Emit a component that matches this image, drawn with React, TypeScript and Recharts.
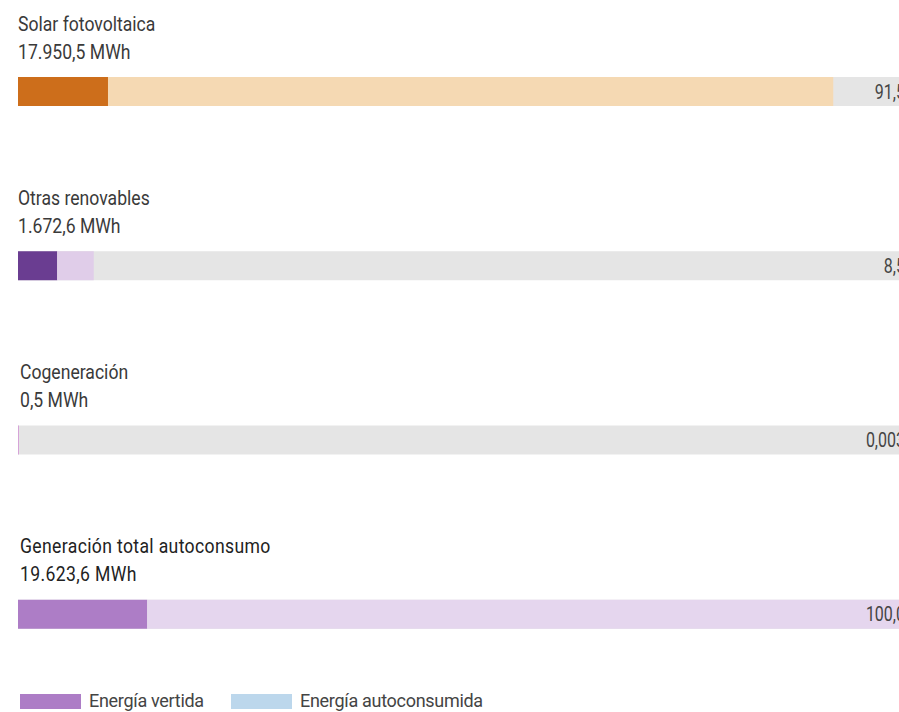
import React from "react";
import { BarChart, Bar, XAxis, YAxis, Cell, LabelList, Legend } from "recharts";

const CATEGORIES = [
  "Solar fotovoltaica",
  "Otras renovables",
  "Cogeneración",
  "Generación total autoconsumo",
];
// MWh generados por tecnología
const GENERATION = [17950.5, 1672.6, 0.5, 19623.6];
// % sobre la generación total
const VERTIDA = [10.1, 4.4, 0.002, 14.5];
const AUTOCONSUMIDA = [81.4, 4.1, 0.001, 85.5];
const SHARE = [91.5, 8.5, 0.003, 100.0];

const DARK = ["#cd6e1b", "#6a3d91", "#d6a3d8", "#ad7dc6"];
const LIGHT = ["#f5d9b3", "#e0cde9", "#ecdff0", "#e5d6ee"];

const FONT = "Roboto, 'Noto Sans', sans-serif";
const TEXT = "#3a3a3a";
const SQUEEZE = 0.88;

const W = 909;
const H = 712;

function fmtEs(v: number, decimals: number) {
  const [int, dec] = v.toFixed(decimals).split(".");
  const grouped = int.replace(/\B(?=(\d{3})+(?!\d))/g, ".");
  return dec ? `${grouped},${dec}` : grouped;
}

const data = CATEGORIES.map((name, i) => ({
  name,
  vertida: VERTIDA[i],
  autoconsumida: AUTOCONSUMIDA[i],
}));

// título y total encima de cada barra
// eslint-disable-next-line @typescript-eslint/no-explicit-any
function TitleLabel({ x, y, height, index }: any) {
  const last = index === CATEGORIES.length - 1;
  const cy = y + height / 2;
  const tx = x + (index >= 2 ? 2 : 0);
  return (
    <g fontFamily={FONT} fontSize={20} fill={last ? "#222" : TEXT}>
      <text transform={`translate(${tx},${cy - 61}) scale(${SQUEEZE},1)`} letterSpacing={last ? 0.4 : 0}>
        {CATEGORIES[index]}
      </text>
      <text transform={`translate(${tx},${cy - 33}) scale(${SQUEEZE},1)`} letterSpacing={last ? 0.4 : 0}>
        {fmtEs(GENERATION[index], 1)} MWh
      </text>
    </g>
  );
}

// eslint-disable-next-line @typescript-eslint/no-explicit-any
function ShareLabel({ y, height, index }: any) {
  const v = SHARE[index];
  return (
    <text
      transform={`translate(${W - 4},${y + height / 2 + 7}) scale(0.8,1)`}
      textAnchor="end"
      fontFamily={FONT}
      fontSize={20}
      fill="#444"
    >
      {fmtEs(v, v < 0.1 ? 3 : 1)}
    </text>
  );
}

function LegendContent() {
  const items = [
    { label: "Energía vertida", color: "#ad7dc6", x: 20 },
    { label: "Energía autoconsumida", color: "#bcd7ec", x: 231 },
  ];
  return (
    <div style={{ position: "relative", height: 22, fontFamily: FONT }}>
      {items.map((it) => (
        <div
          key={it.label}
          style={{ position: "absolute", left: it.x, top: 0, height: 22, display: "flex", alignItems: "center" }}
        >
          <span style={{ display: "inline-block", width: 61, height: 15, background: it.color }} />
          <span
            style={{
              marginLeft: 8,
              fontSize: 18,
              color: "#444",
              lineHeight: "22px",
              whiteSpace: "nowrap",
              letterSpacing: -0.3,
            }}
          >
            {it.label}
          </span>
        </div>
      ))}
    </div>
  );
}

export default function App() {
  return (
    <>
      <style>{"body{margin:0}"}</style>
      <div style={{ position: "relative", width: 899, height: H, overflow: "hidden", background: "#fff" }}>
        <BarChart
          width={W}
          height={H}
          data={data}
          layout="vertical"
          barSize={29}
          margin={{ top: 4, right: 0, left: 18, bottom: -11 }}
        >
          <XAxis type="number" domain={[0, 100]} hide />
          <YAxis type="category" dataKey="name" width={0} hide />
          <Legend
            verticalAlign="bottom"
            content={<LegendContent />}
            wrapperStyle={{ top: 690, bottom: "auto", left: 0, width: 899 }}
          />
          <Bar
            dataKey="vertida"
            name="Energía vertida"
            stackId="a"
            minPointSize={1}
            background={{ fill: "#e5e5e5" }}
            isAnimationActive={false}
          >
            {data.map((_, i) => (
              <Cell key={i} fill={DARK[i]} />
            ))}
            <LabelList dataKey="vertida" content={<TitleLabel />} />
          </Bar>
          <Bar dataKey="autoconsumida" name="Energía autoconsumida" stackId="a" isAnimationActive={false}>
            {data.map((_, i) => (
              <Cell key={i} fill={LIGHT[i]} />
            ))}
            <LabelList dataKey="autoconsumida" content={<ShareLabel />} />
          </Bar>
        </BarChart>
      </div>
    </>
  );
}
